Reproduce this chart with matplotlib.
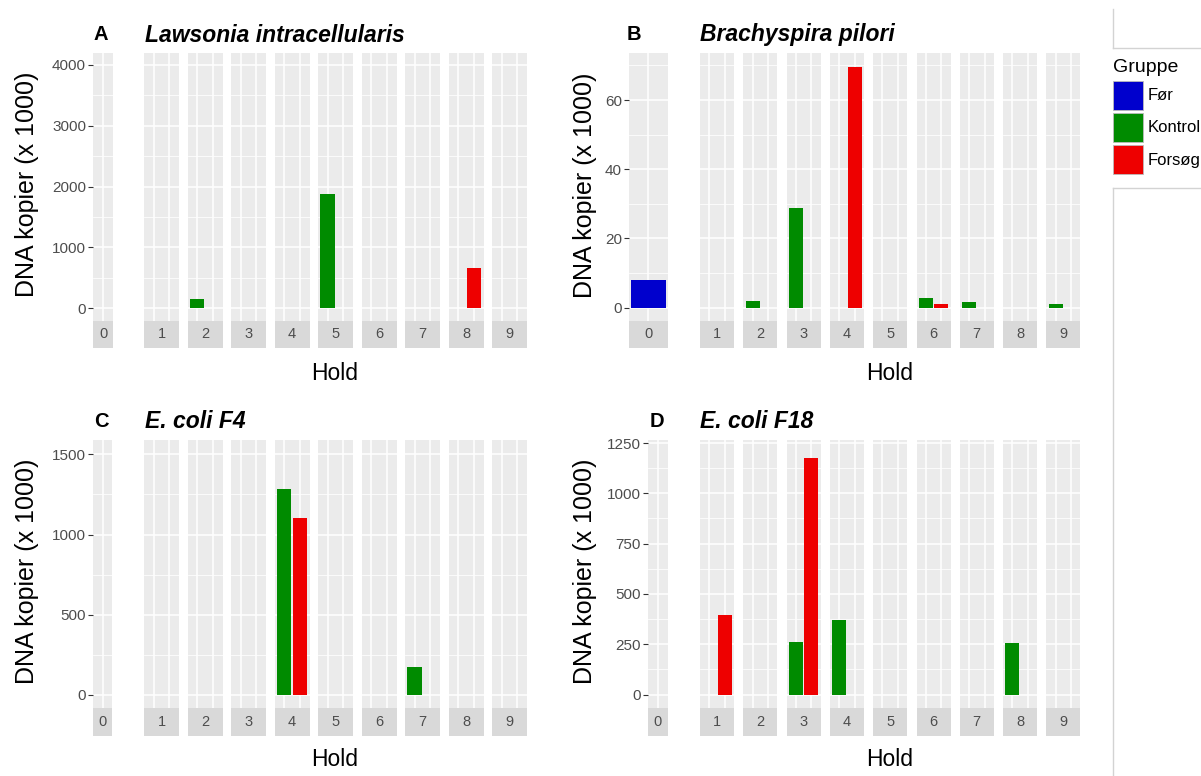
import matplotlib
matplotlib.use("Agg")
import matplotlib.pyplot as plt
from matplotlib.patches import Rectangle
from matplotlib.lines import Line2D
import numpy as np

plt.rcParams['font.family'] = ['Liberation Sans', 'DejaVu Sans']

# ---------------- data ----------------
holds = ['0', '1', '2', '3', '4', '5', '6', '7', '8', '9']
groups = ['Før', 'Kontrol', 'Forsøg']
group_colors = ['#0000CD', '#008B00', '#EE0000']

titles = ['Lawsonia intracellularis', 'Brachyspira pilori', 'E. coli F4', 'E. coli F18']
letters = ['A', 'B', 'C', 'D']

# value of "Før" (hold 0) per panel; None = no bar
for_values = [None, 8.0, None, None]
# Kontrol / Forsøg values for holds 1..9 per panel (None = no bar)
kontrol_values = [
    [None, 150, None, None, 1880, None, None, None, None],
    [None, 2.0, 28.7, None, None, 2.7, 1.7, None, 1.0],
    [None, None, None, 1285, None, None, 175, None, None],
    [None, None, 260, 371, None, None, None, 254, None],
]
forsog_values = [
    [None, None, None, None, None, None, None, 670, None],
    [None, None, None, 69.5, None, 1.1, None, None, None],
    [None, None, None, 1105, None, None, None, None, None],
    [395, None, 1175, None, None, None, None, None, None],
]
y_major = [
    [0, 1000, 2000, 3000, 4000],
    [0, 20, 40, 60],
    [0, 500, 1000, 1500],
    [0, 250, 500, 750, 1000, 1250],
]
y_limits = [(-200, 4200), (-3.9, 73.6), (-80, 1590), (-64, 1265)]

# ---------------- layout (pixels) ----------------
W, H = 1201, 776
fig = plt.figure(figsize=(W / 100, H / 100), dpi=100)

layouts = [
    dict(f0=(93, 113), x1=144, step=43.5, w=35, top=52.5, bot=320.5, sbot=347.5,
         ylab_x=27, hold_x=335, hold_y=373, letter_x=94, title_x=145, title_y=35, f0bar=0.9),
    dict(f0=(629, 668), x1=700, step=43.3, w=34, top=53, bot=321, sbot=348,
         ylab_x=585, hold_x=890, hold_y=373, letter_x=627, title_x=700, title_y=35, f0bar=1.05),
    dict(f0=(93, 112), x1=144, step=43.5, w=35, top=440, bot=707.5, sbot=735.5,
         ylab_x=27, hold_x=335, hold_y=760, letter_x=94, title_x=145, title_y=422, f0bar=0.9),
    dict(f0=(648, 668), x1=700, step=43.3, w=34, top=440, bot=707.5, sbot=735.5,
         ylab_x=585, hold_x=890, hold_y=760, letter_x=650, title_x=700, title_y=422, f0bar=0.9),
]


def px_axes(x0, y0, x1, y1):
    return fig.add_axes([x0 / W, 1 - y1 / H, (x1 - x0) / W, (y1 - y0) / H])


def ftext(x, y, s, **kw):
    fig.text(x / W, 1 - y / H, s, **kw)


def style_facet(ax, ylim, majors, ncat):
    ax.set_facecolor('#EBEBEB')
    for s in ax.spines.values():
        s.set_visible(False)
    ax.set_ylim(*ylim)
    ax.set_xlim(0.4, ncat + 0.6)
    ax.set_yticks(majors)
    minors = [(a + b) / 2 for a, b in zip(majors[:-1], majors[1:])]
    step = majors[1] - majors[0]
    if majors[-1] + step / 2 < ylim[1]:
        minors.append(majors[-1] + step / 2)
    ax.set_yticks(minors, minor=True)
    ax.set_xticks(list(range(1, ncat + 1)))
    ax.grid(which='major', color='white', lw=1.1)
    ax.grid(which='minor', axis='y', color='white', lw=0.55)
    ax.set_axisbelow(True)
    ax.tick_params(which='both', length=0, labelleft=False, labelbottom=False)


def strip(x0, x1, y0, y1, label):
    sax = px_axes(x0, y0, x1, y1)
    sax.set_facecolor('#D9D9D9')
    sax.set_xticks([]); sax.set_yticks([])
    for s in sax.spines.values():
        s.set_visible(False)
    sax.text(0.5, 0.5, label, ha='center', va='center', transform=sax.transAxes,
             fontsize=10.5, color='#4D4D4D')


for p in range(4):
    L = layouts[p]
    ylim = y_limits[p]
    # facet 0
    ax0 = px_axes(L['f0'][0], L['top'], L['f0'][1], L['bot'])
    style_facet(ax0, ylim, y_major[p], 1)
    if for_values[p] is not None:
        ax0.bar([1], [for_values[p]], width=L['f0bar'], color=group_colors[0], zorder=3)
    ax0.tick_params(axis='y', which='major', length=3.5, width=0.8, color='#333333',
                    labelleft=True, labelsize=11, labelcolor='#4D4D4D', pad=1.5)
    strip(L['f0'][0], L['f0'][1], L['bot'], L['sbot'], holds[0])
    # facets 1..9
    for k in range(9):
        x0 = L['x1'] + k * L['step']
        x1 = x0 + L['w']
        ax = px_axes(x0, L['top'], x1, L['bot'])
        style_facet(ax, ylim, y_major[p], 2)
        kv = kontrol_values[p][k]
        fv = forsog_values[p][k]
        if kv is not None:
            ax.bar([1], [kv], width=0.9, color=group_colors[1], zorder=3)
        if fv is not None:
            ax.bar([2], [fv], width=0.9, color=group_colors[2], zorder=3)
        strip(x0, x1, L['bot'], L['sbot'], holds[k + 1])
    # texts
    ftext(L['ylab_x'], (L['top'] + L['bot']) / 2 - 2, 'DNA kopier (x 1000)', rotation=90,
          ha='center', va='center', fontsize=18, color='black')
    ftext(L['hold_x'], L['hold_y'], 'Hold', ha='center', va='center', fontsize=16.5)
    ftext(L['letter_x'], L['title_y'], letters[p], ha='left', va='center',
          fontsize=14.5, fontweight='bold')
    ftext(L['title_x'], L['title_y'], titles[p], ha='left', va='center',
          fontsize=16.5, fontweight='bold', style='italic')

# ---------------- legend ----------------
ftext(1113, 67, 'Gruppe', ha='left', va='center', fontsize=14)
key_y = [81, 113, 145]
for i, g in enumerate(groups):
    fig.patches.append(Rectangle((1113 / W, 1 - (key_y[i] + 29) / H), 30 / W, 29 / H,
                                 transform=fig.transFigure, facecolor=group_colors[i],
                                 edgecolor='#BBBBBB', lw=0.6))
    ftext(1148, key_y[i] + 15, g, ha='left', va='center', fontsize=12)

# light frame lines on the right
lc = '#D3D3D3'
fig.lines.append(Line2D([1113 / W, 1113 / W], [1 - 9 / H, 1 - 48 / H], transform=fig.transFigure, color=lc, lw=1))
fig.lines.append(Line2D([1113 / W, 1.0], [1 - 48 / H, 1 - 48 / H], transform=fig.transFigure, color=lc, lw=1))
fig.lines.append(Line2D([1113 / W, 1.0], [1 - 188 / H, 1 - 188 / H], transform=fig.transFigure, color=lc, lw=1))
fig.lines.append(Line2D([1113 / W, 1113 / W], [1 - 188 / H, 0.0], transform=fig.transFigure, color=lc, lw=1))

fig.savefig('out.png', dpi=100, facecolor='white')
